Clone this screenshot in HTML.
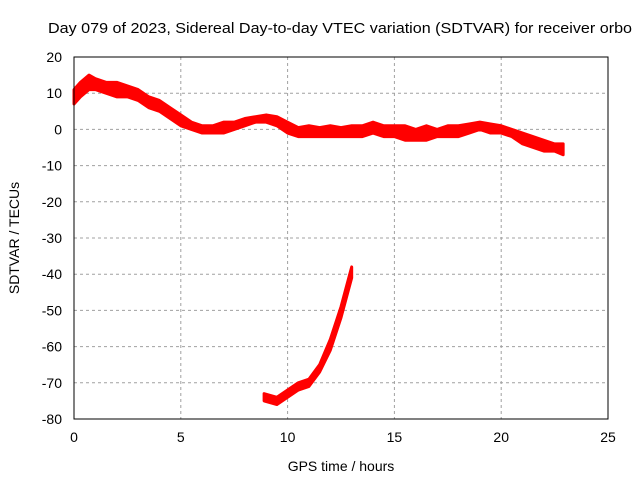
<!DOCTYPE html>
<html><head><meta charset="utf-8"><style>
body{margin:0;background:#fff}
svg{display:block;font-family:"Liberation Sans",sans-serif}
</style></head><body>
<svg id="chart" width="640" height="480" viewBox="0 0 640 480" xmlns="http://www.w3.org/2000/svg">
<text x="48" y="33" font-size="15" textLength="584" lengthAdjust="spacingAndGlyphs">Day 079 of 2023, Sidereal Day-to-day VTEC variation (SDTVAR) for receiver orbo</text>
<g id="grid"></g>
<g id="series"></g>
<rect x="74" y="57" width="534" height="362" fill="none" stroke="#000" stroke-width="1"/>
<g id="ticks"></g>
<text x="341" y="471" font-size="14" text-anchor="middle">GPS time / hours</text>
<text transform="translate(19,238) rotate(-90)" font-size="14" text-anchor="middle">SDTVAR / TECUs</text>
</svg>
<script>
const xTicks=[0,5,10,15,20,25];
const yTicks=[20,10,0,-10,-20,-30,-40,-50,-60,-70,-80];
const hoursA=[0,0.3,0.7,1,1.5,2,2.5,3,3.5,4,4.5,5,5.5,6,6.5,7,7.5,8,8.5,9,9.5,10,10.5,11,11.5,12,12.5,13,13.5,14,14.5,15,15.5,16,16.5,17,17.5,18,18.5,19,19.5,20,20.5,21,21.5,22,22.5,22.9];
const highA=[11,13,15,14,13,13,12,11,9,8,6,4,2,1,1,2,2,3,3.5,4,3.5,2,0.5,1,0.5,1,0.5,1,1,2,1,1,1,0,1,0,1,1,1.5,2,1.5,1,0,-1,-2,-3,-4,-4];
const lowA=[7,9,11,11,10,9,9,8,6,5,3,1,0,-1,-1,-1,0,1,2,2,1,-1,-2,-2,-2,-2,-2,-2,-2,-1,-2,-2,-3,-3,-3,-2,-2,-2,-1,0,-1,-1,-2,-4,-5,-6,-6,-7];
const hoursB=[8.9,9.5,10,10.5,11,11.5,12,12.5,13];
const highB=[-73,-74,-72,-70,-69,-65,-58,-49,-38];
const lowB=[-75,-76,-74,-72,-71,-67,-61,-52,-41];
const X=h=>74+h*534/25, Y=v=>57+(20-v)*362/100;
const NS="http://www.w3.org/2000/svg";
function mk(t,a,p){const e=document.createElementNS(NS,t);for(const k in a)e.setAttribute(k,a[k]);p.appendChild(e);return e;}
const grid=document.getElementById('grid'),ticks=document.getElementById('ticks'),series=document.getElementById('series');
xTicks.forEach(t=>{
  if(t>0&&t<25){const g=mk('line',{x1:X(t),x2:X(t),y1:57,y2:419,stroke:'#a0a0a0','stroke-dasharray':'3,3'},grid);
  
  }
  const l=mk('text',{x:X(t),y:442,'font-size':14,'text-anchor':'middle'},ticks);l.textContent=t;
  
  
});
yTicks.forEach(t=>{
  if(t<20&&t>-80){const g=mk('line',{x1:74,x2:608,y1:Y(t),y2:Y(t),stroke:'#a0a0a0','stroke-dasharray':'3,3'},grid);
  
  }
  const l=mk('text',{x:62,y:Y(t)+5,'font-size':14,'text-anchor':'end'},ticks);l.textContent=t;
  
  
});
function band(hs,hi,lo,name){
  let pts=hs.map((h,i)=>X(h)+','+Y(hi[i]));
  for(let i=hs.length-1;i>=0;i--)pts.push(X(hs[i])+','+Y(lo[i]));
  const p=mk('polygon',{points:pts.join(' '),fill:'#f00',stroke:'#f00','stroke-width':3,'stroke-linejoin':'round'},series);
  
  
}
band(hoursA,highA,lowA,'sdtvar-series-main');
band(hoursB,highB,lowB,'sdtvar-series-low');
</script>
</body></html>
